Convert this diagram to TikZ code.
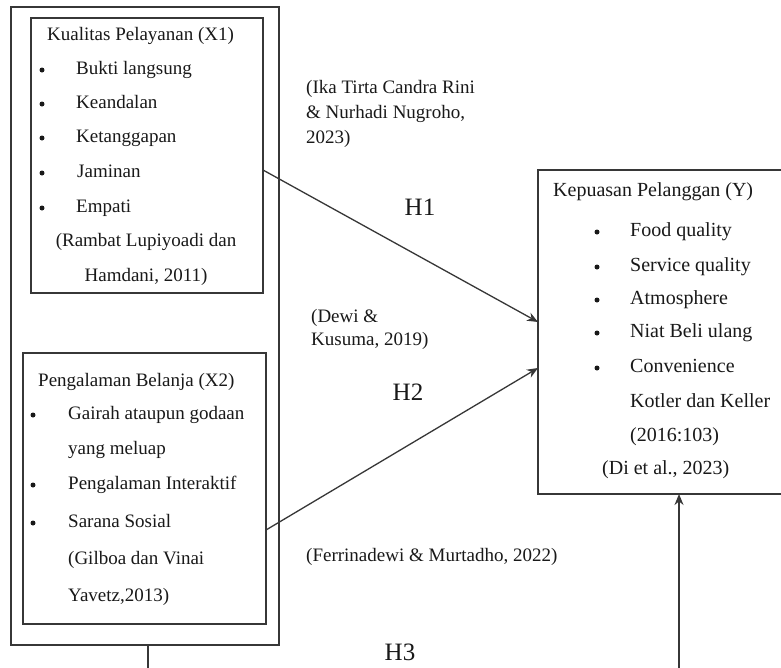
\documentclass[tikz,border=0pt]{standalone}
\usepackage{fontspec}
\setmainfont{Liberation Serif}
\usetikzlibrary{arrows.meta}
\definecolor{ink}{RGB}{25,25,25}
\definecolor{edge}{RGB}{55,55,55}
\tikzset{
  box/.style={draw=edge, line width=1.6pt, inner sep=0pt, outer sep=0pt, anchor=north west},
  txt/.style={text=ink, font=\fontsize{19}{22}\selectfont, inner sep=0pt, anchor=west, text height=13pt, text depth=4pt},
  ctxt/.style={txt, anchor=center},
  ytxt/.style={txt, font=\fontsize{20}{23}\selectfont},
  bul/.style={fill=ink, circle, inner sep=0pt, minimum size=5pt},
  hyp/.style={text=ink, font=\fontsize{25}{28}\selectfont, inner sep=0pt, anchor=center},
  arr/.style={draw=edge, line width=1.3pt, -{Stealth[length=11pt,width=9pt]}},
  ln/.style={draw=edge, line width=1.6pt}
}
\begin{document}
\begin{tikzpicture}[x=1pt,y=-1pt]
\useasboundingbox (0,0) rectangle (781,667);
\fill[white] (0,0) rectangle (781,667);
% boxes
\node[box, minimum width=268pt, minimum height=638pt] (outer) at (11,7) {};
\node[box, minimum width=232pt, minimum height=275pt] (x1) at (31,18) {};
\node[box, minimum width=243pt, minimum height=271pt] (x2) at (23,353) {};
\node[box, minimum width=252pt, minimum height=324pt] (yb) at (538,170) {};
% box X1 text
\node[txt] (x1t) at (47,36) {Kualitas Pelayanan (X1)};
\node[bul] (x1b1) at (42,70) {};
\node[bul] (x1b2) at (42,104) {};
\node[bul] (x1b3) at (42,138) {};
\node[bul] (x1b4) at (42,173) {};
\node[bul] (x1b5) at (42,208) {};
\node[txt] (x1i1) at (76,70) {Bukti langsung};
\node[txt] (x1i2) at (76,104) {Keandalan};
\node[txt] (x1i3) at (76,138) {Ketanggapan};
\node[txt] (x1i4) at (77,173) {Jaminan};
\node[txt] (x1i5) at (76,208) {Empati};
\node[ctxt] (x1r1) at (146,242) {(Rambat Lupiyoadi dan};
\node[ctxt] (x1r2) at (146,277) {Hamdani, 2011)};
% box X2 text
\node[txt] (x2t) at (38,382) {Pengalaman Belanja (X2)};
\node[bul] (x2b1) at (33,415) {};
\node[bul] (x2b2) at (33,485) {};
\node[bul] (x2b3) at (33,523) {};
\node[txt] (x2i1) at (68,415) {Gairah ataupun godaan};
\node[txt] (x2i1b) at (68,450) {yang meluap};
\node[txt] (x2i2) at (68,485) {Pengalaman Interaktif};
\node[txt] (x2i3) at (68,523) {Sarana Sosial};
\node[txt] (x2r1) at (68,560) {(Gilboa dan Vinai};
\node[txt] (x2r2) at (68,597) {Yavetz,2013)};
% box Y text
\node[ytxt] (yt) at (553,192) {Kepuasan Pelanggan (Y)};
\node[bul] (yb1) at (597,232) {};
\node[bul] (yb2) at (597,267) {};
\node[bul] (yb3) at (597,300) {};
\node[bul] (yb4) at (597,333) {};
\node[bul] (yb5) at (597,368) {};
\node[ytxt] (yi1) at (630,232) {Food quality};
\node[ytxt] (yi2) at (630,267) {Service quality};
\node[ytxt] (yi3) at (630,300) {Atmosphere};
\node[ytxt] (yi4) at (630,333) {Niat Beli ulang};
\node[ytxt] (yi5) at (630,368) {Convenience};
\node[ytxt] (yr1) at (630,403) {Kotler dan Keller};
\node[ytxt] (yr2) at (630,437) {(2016:103)};
\node[ytxt] (yr3) at (602,470) {(Di et al., 2023)};
% citations
\node[txt] (c1a) at (306,89) {(Ika Tirta Candra Rini};
\node[txt] (c1b) at (306,114) {\& Nurhadi Nugroho,};
\node[txt] (c1c) at (306,139) {2023)};
\node[txt] (c2a) at (311,318) {(Dewi \&};
\node[txt] (c2b) at (311,341) {Kusuma, 2019)};
\node[txt] (c3) at (306,557) {(Ferrinadewi \& Murtadho, 2022)};
% hypotheses
\node[hyp] (h1) at (420,207) {H1};
\node[hyp] (h2) at (408,392) {H2};
\node[hyp] (h3) at (400,652) {H3};
% connectors
\draw[arr] ([yshift=-152pt]x1.north east) -- ([yshift=-152pt]yb.north west);
\draw[arr] ([yshift=-177pt]x2.north east) -- ([yshift=-198pt]yb.north west);
\coordinate (lfoot) at (148,672);
\coordinate (rfoot) at (679,672);
\draw[ln] ([xshift=3pt]outer.south) -- (lfoot);
\draw[arr] (rfoot) -- ([xshift=141pt]yb.south west);
\end{tikzpicture}
\end{document}
